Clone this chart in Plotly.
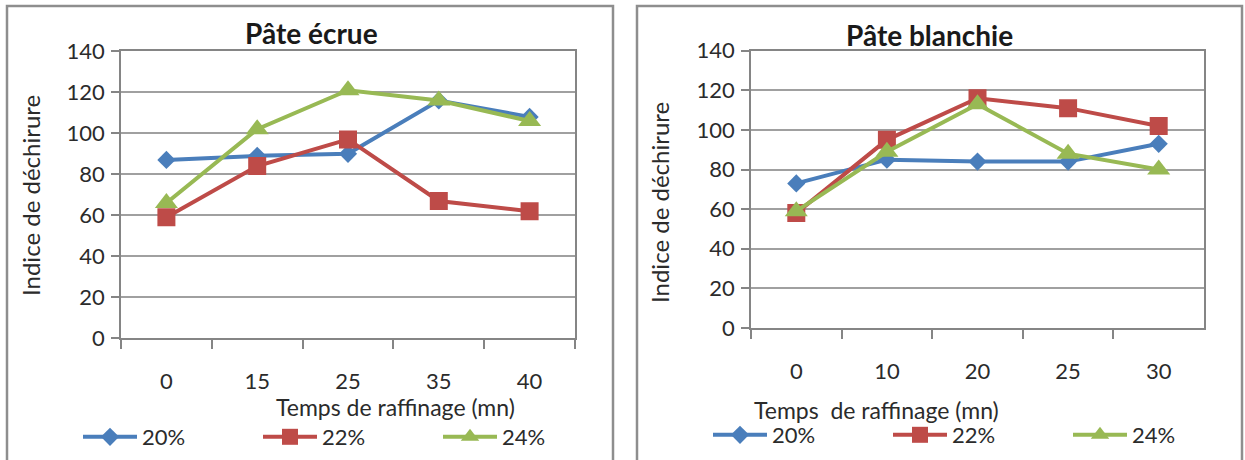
import plotly.graph_objects as go

W, H = 1245, 460

# ---- data ----
ecrue_times = ["0", "15", "25", "35", "40"]
blanchie_times = ["0", "10", "20", "25", "30"]
series_names = ["20%", "22%", "24%"]

ecrue_20 = [87, 89, 90, 116, 108]
ecrue_22 = [59, 84, 97, 67, 62]
ecrue_24 = [66, 102, 121, 116, 106]

blanchie_20 = [73, 85, 84, 84, 93]
blanchie_22 = [58, 95, 116, 111, 102]
blanchie_24 = [59, 89, 113, 88, 80]

y_ticks = [0, 20, 40, 60, 80, 100, 120, 140]

# ---- styles ----
colors = ["#4a7ebb", "#be4b48", "#98b954"]
symbols = ["diamond", "square", "triangle-up"]
msizes = [14, 18, 20]
FONT = "Lato"
TXT = "#2b2b2b"
GRID = "#a0a0a0"
AXL = "#858585"


def px(p):
    return p / W


def py(p):
    return 1 - p / H


fig = go.Figure()

for i, (name, vals) in enumerate(zip(series_names, [ecrue_20, ecrue_22, ecrue_24])):
    fig.add_trace(go.Scatter(
        x=ecrue_times, y=vals, name=name, mode="lines+markers",
        line=dict(color=colors[i], width=4),
        marker=dict(symbol=symbols[i], size=msizes[i], color=colors[i], line=dict(width=0)),
        xaxis="x", yaxis="y", legend="legend",
    ))

for i, (name, vals) in enumerate(zip(series_names, [blanchie_20, blanchie_22, blanchie_24])):
    fig.add_trace(go.Scatter(
        x=blanchie_times, y=vals, name=name, mode="lines+markers",
        line=dict(color=colors[i], width=4),
        marker=dict(symbol=symbols[i], size=msizes[i], color=colors[i], line=dict(width=0)),
        xaxis="x2", yaxis="y2", legend="legend2",
    ))

xcommon = dict(
    type="category", range=[-0.5, 4.5], tickson="boundaries", ticks="outside",
    ticklen=9, tickwidth=1.5, tickcolor=AXL, showline=True, linecolor=AXL, linewidth=1.5,
    mirror=True, showgrid=False, zeroline=False, fixedrange=True, automargin=False,
    tickfont=dict(family=FONT, size=22, color=TXT), ticklabelstandoff=23,
)
ycommon = dict(
    range=[0, 140], tickvals=y_ticks, ticks="outside", ticklen=8, tickwidth=1.5,
    tickcolor=AXL, showline=True, linecolor=AXL, linewidth=1.5, mirror=True,
    showgrid=True, gridcolor=GRID, gridwidth=1.5, zeroline=False, fixedrange=True,
    automargin=False,
    tickfont=dict(family=FONT, size=22, color=TXT), ticklabelstandoff=2,
)

legcommon = dict(
    orientation="h", yanchor="middle", xanchor="left", entrywidth=111,
    entrywidthmode="pixels", font=dict(family=FONT, size=22, color=TXT),
    bgcolor="rgba(0,0,0,0)", borderwidth=0, itemwidth=54,
)

fig.update_layout(
    width=W, height=H, autosize=False,
    margin=dict(l=0, r=0, t=0, b=0, pad=0, autoexpand=False),
    paper_bgcolor="white", plot_bgcolor="white",
    font=dict(family=FONT, color=TXT),
    xaxis=dict(domain=[px(121), px(575)], anchor="y", **xcommon),
    yaxis=dict(domain=[py(338.3), py(51.3)], anchor="x", **ycommon),
    xaxis2=dict(domain=[px(751), px(1204)], anchor="y2", **xcommon),
    yaxis2=dict(domain=[py(328), py(50.7)], anchor="x2", **ycommon),
    legend=dict(x=px(78), y=py(437), **legcommon),
    legend2=dict(x=px(708), y=py(435), **legcommon),
    showlegend=True,
)

# chart frames
for x0, x1 in [(7, 613), (637, 1242)]:
    fig.add_shape(type="rect", xref="paper", yref="paper",
                  x0=px(x0), x1=px(x1), y0=-0.05, y1=py(6),
                  line=dict(color="#8e8e8e", width=2.5), layer="below")

# titles and axis titles
ann = [
    dict(text="<b>Pâte écrue</b>", x=px(311), y=py(33), size=28, angle=0),
    dict(text="<b>Pâte blanchie</b>", x=px(929), y=py(35), size=28, angle=0),
    dict(text="Temps de raffinage (mn)", x=px(395), y=py(407), size=23, angle=0),
    dict(text="Temps  de raffinage (mn)", x=px(876), y=py(410), size=23, angle=0),
    dict(text="Indice de déchirure", x=px(30), y=py(196), size=24, angle=-90),
    dict(text="Indice de déchirure", x=px(659), y=py(203), size=24, angle=-90),
]
for a in ann:
    fig.add_annotation(
        text=a["text"], x=a["x"], y=a["y"], xref="paper", yref="paper",
        xanchor="center", yanchor="middle", showarrow=False, textangle=a["angle"],
        font=dict(family=FONT, size=a["size"], color="#1a1a1a" if "<b>" in a["text"] else TXT),
    )

fig.write_html(
    "out.html",
    config={"displayModeBar": False},
    post_script="document.body.style.margin='0';document.body.style.overflow='hidden';",
)
